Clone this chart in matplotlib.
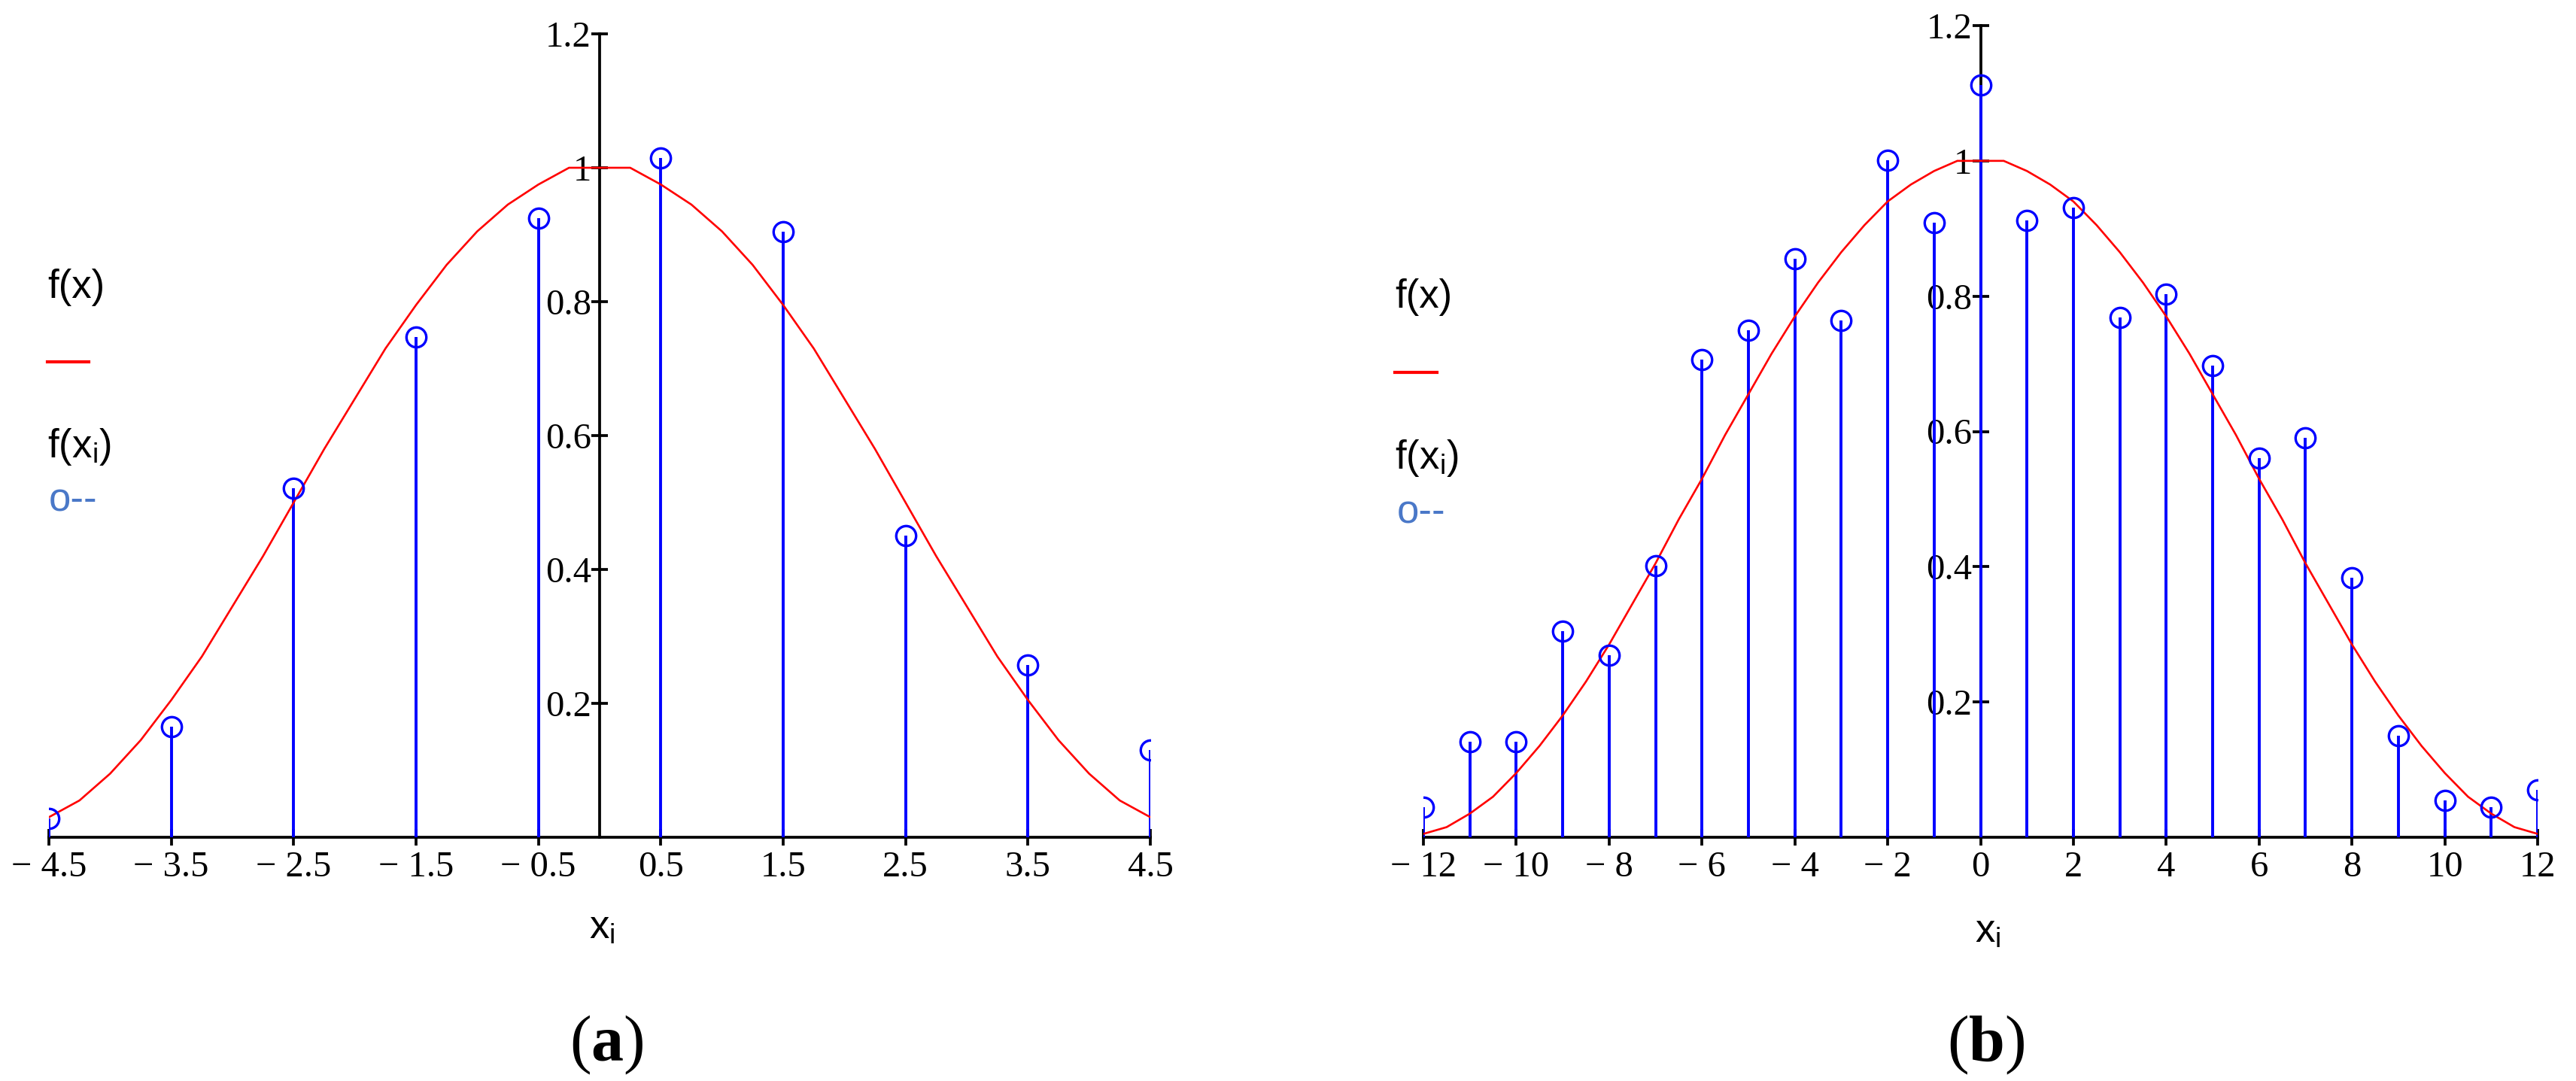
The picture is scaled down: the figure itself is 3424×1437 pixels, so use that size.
import matplotlib
matplotlib.use("Agg")
import matplotlib.pyplot as plt
from matplotlib.lines import Line2D

# ---------------- data ----------------
# panel (a)
xi_a = [-4.5, -3.5, -2.5, -1.5, -0.5, 0.5, 1.5, 2.5, 3.5, 4.5]
fxi_a = [0.028, 0.165, 0.521, 0.747, 0.925, 1.015, 0.904, 0.451, 0.257, 0.130]
xc_a = [-4.5, -4.25, -4.0, -3.75, -3.5, -3.25, -3.0, -2.75, -2.5, -2.25, -2.0,
        -1.75, -1.5, -1.25, -1.0, -0.75, -0.5, -0.25, 0.0, 0.25, 0.5, 0.75,
        1.0, 1.25, 1.5, 1.75, 2.0, 2.25, 2.5, 2.75, 3.0, 3.25, 3.5, 3.75, 4.0,
        4.25, 4.5]
fc_a = [0.03, 0.055, 0.095, 0.145, 0.205, 0.27, 0.345, 0.42, 0.50, 0.58, 0.655,
        0.73, 0.795, 0.855, 0.905, 0.945, 0.975, 1.0, 1.0, 1.0, 0.975, 0.945,
        0.905, 0.855, 0.795, 0.73, 0.655, 0.58, 0.50, 0.42, 0.345, 0.27, 0.205,
        0.145, 0.095, 0.055, 0.03]
xticks_a = [-4.5, -3.5, -2.5, -1.5, -0.5, 0.5, 1.5, 2.5, 3.5, 4.5]
xticklabels_a = ["\u2212 4.5", "\u2212 3.5", "\u2212 2.5", "\u2212 1.5", "\u2212 0.5",
                 "0.5", "1.5", "2.5", "3.5", "4.5"]

# panel (b)
xi_b = [-12, -11, -10, -9, -8, -7, -6, -5, -4, -3, -2, -1, 0,
        1, 2, 3, 4, 5, 6, 7, 8, 9, 10, 11, 12]
fxi_b = [0.044, 0.141, 0.141, 0.305, 0.269, 0.402, 0.706, 0.750, 0.855, 0.764,
         1.001, 0.909, 1.112, 0.912, 0.931, 0.768, 0.803, 0.697, 0.560, 0.591,
         0.384, 0.150, 0.054, 0.044, 0.070]
xc_b = [-12, -11.5, -11, -10.5, -10, -9.5, -9, -8.5, -8, -7.5, -7, -6.5, -6,
        -5.5, -5, -4.5, -4, -3.5, -3, -2.5, -2, -1.5, -1, -0.5, 0, 0.5, 1, 1.5,
        2, 2.5, 3, 3.5, 4, 4.5, 5, 5.5, 6, 6.5, 7, 7.5, 8, 8.5, 9, 9.5, 10,
        10.5, 11, 11.5, 12]
fc_b = [0.005, 0.015, 0.035, 0.06, 0.095, 0.135, 0.18, 0.23, 0.285, 0.345,
        0.405, 0.47, 0.53, 0.595, 0.655, 0.715, 0.77, 0.82, 0.865, 0.905, 0.94,
        0.965, 0.985, 1.0, 1.0, 1.0, 0.985, 0.965, 0.94, 0.905, 0.865, 0.82,
        0.77, 0.715, 0.655, 0.595, 0.53, 0.47, 0.405, 0.345, 0.285, 0.23, 0.18,
        0.135, 0.095, 0.06, 0.035, 0.015, 0.005]
xticks_b = [-12, -10, -8, -6, -4, -2, 0, 2, 4, 6, 8, 10, 12]
xticklabels_b = ["\u2212 12", "\u2212 10", "\u2212 8", "\u2212 6", "\u2212 4", "\u2212 2",
                 "0", "2", "4", "6", "8", "10", "12"]

yticks = [0.2, 0.4, 0.6, 0.8, 1.0, 1.2]
yticklabels = ["0.2", "0.4", "0.6", "0.8", "1", "1.2"]

# ---------------- figure ----------------
plt.rcParams["mathtext.fontset"] = "custom"
plt.rcParams["mathtext.rm"] = "Liberation Serif"
plt.rcParams["mathtext.bf"] = "Liberation Serif:bold"
plt.rcParams["mathtext.sf"] = "Liberation Sans"
plt.rcParams["mathtext.it"] = "Liberation Serif:italic"

W, H = 3424, 1437
fig = plt.figure(figsize=(W / 100, H / 100), dpi=100)
fig.patch.set_facecolor("white")


def px_rect(l, r, t, b):
    return [l / W, 1 - b / H, (r - l) / W, (b - t) / H]


axA = fig.add_axes(px_rect(65, 1529, 45, 1113))
axB = fig.add_axes(px_rect(1892, 3373, 34, 1113))

BLUE = "#0000ff"
RED = "#ff0000"


def style(ax, xlim, xt, xtl):
    ax.set_xlim(xlim)
    ax.set_ylim(0, 1.2)
    ax.patch.set_visible(False)
    ax.spines["top"].set_visible(False)
    ax.spines["right"].set_visible(False)
    ax.spines["left"].set_position(("data", 0))
    for s in ("left", "bottom"):
        ax.spines[s].set_linewidth(2.7)
        ax.spines[s].set_color("black")
        ax.spines[s].set_zorder(1.5)
    ax.set_xticks(xt)
    ax.set_xticklabels(xtl, fontfamily="Liberation Serif", fontsize=35)
    ax.set_yticks(yticks)
    ax.set_yticklabels(yticklabels, fontfamily="Liberation Serif", fontsize=35)
    ax.tick_params(direction="inout", length=16, width=2.7, color="black")
    ax.tick_params(axis="x", pad=5)
    ax.tick_params(axis="y", pad=0)


def draw(ax, xi, fxi, xc, fc):
    ax.vlines(xi, 0, fxi, colors=BLUE, linewidth=2.8, zorder=3)
    ax.plot(xi, fxi, linestyle="none", marker="o", markersize=19,
            markerfacecolor="none", markeredgecolor=BLUE,
            markeredgewidth=2.4, zorder=4)
    ax.plot(xc, fc, color=RED, linewidth=1.9, zorder=3.5)


style(axA, (-4.5, 4.5), xticks_a, xticklabels_a)
draw(axA, xi_a, fxi_a, xc_a, fc_a)
style(axB, (-12, 12), xticks_b, xticklabels_b)
draw(axB, xi_b, fxi_b, xc_b, fc_b)


def ftext(x, y, s, **kw):
    fig.text(x / W, 1 - y / H, s, **kw)


LEG_BLUE = "#4a78c8"
sans = dict(family="Liberation Sans", fontsize=38, color="black", va="baseline", ha="left")

# legend (a)
ftext(63, 396, "f(x)", **sans)
fig.add_artist(Line2D([63 / W, 118 / W], [1 - 481 / H, 1 - 481 / H], color=RED, linewidth=3))
ftext(63, 608, r"f(x$_\mathsf{i}$)", **sans)
ftext(65, 679, "o--", family="Liberation Sans", fontsize=38, color=LEG_BLUE,
      va="baseline", ha="left")

# legend (b)
ftext(1854, 409, "f(x)", **sans)
fig.add_artist(Line2D([1854 / W, 1910 / W], [1 - 495 / H, 1 - 495 / H], color=RED, linewidth=3))
ftext(1854, 623, r"f(x$_\mathsf{i}$)", **sans)
ftext(1857, 695, "o--", family="Liberation Sans", fontsize=38, color=LEG_BLUE,
      va="baseline", ha="left")

# axis labels
ftext(800, 1248, r"x$_\mathsf{i}$", family="Liberation Sans", fontsize=38,
      ha="center", va="baseline")
ftext(2642, 1253, r"x$_\mathsf{i}$", family="Liberation Sans", fontsize=38,
      ha="center", va="baseline")

# captions
ftext(806, 1410, r"($\mathbf{a}$)", family="Liberation Serif", fontsize=62,
      ha="center", va="baseline")
ftext(2640, 1410, r"($\mathbf{b}$)", family="Liberation Serif", fontsize=62,
      ha="center", va="baseline")

fig.savefig("out.png", dpi=100, facecolor="white")
